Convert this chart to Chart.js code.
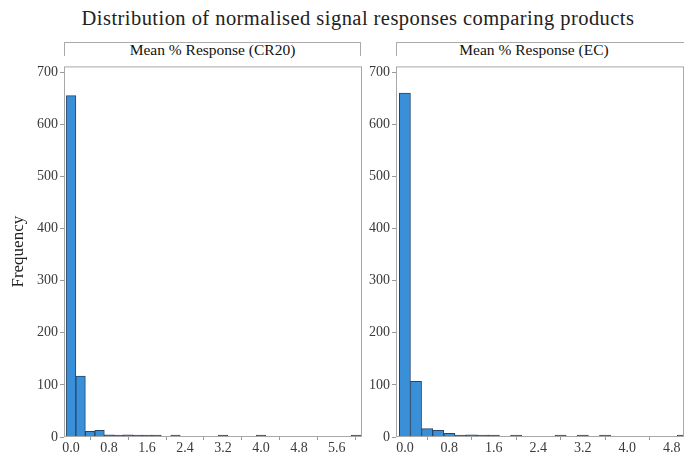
<!DOCTYPE html>
<html>
<head>
<meta charset="utf-8">
<script src="https://cdn.jsdelivr.net/npm/chart.js@4"></script>
<style>
  body { margin: 0; background: #fff; width: 684px; height: 455px; overflow: hidden; position: relative; font-family: "Liberation Serif", serif; }
  #title { position: absolute; top: 7px; left: 16px; width: 684px; text-align: center; font-size: 20.5px; color: #222; letter-spacing: 0.45px; }
  .strip { position: absolute; top: 42px; height: 13px; border: 1px solid #aaa; border-bottom: none; text-align: center; font-size: 15.5px; line-height: 14px; color: #111; box-sizing: content-box; white-space: nowrap; }
  .box { position: absolute; }
</style>
</head>
<body>
<div id="title">Distribution of normalised signal responses comparing products</div>
<div class="strip" style="left:64px; width:295px;">Mean % Response (CR20)</div>
<div class="strip" style="left:396px; width:274px; padding-right:16px;">Mean % Response (EC)</div>
<div class="box" style="left:0; top:56px; width:362px; height:399px;"><canvas id="left"></canvas></div>
<div class="box" style="left:362px; top:56px; width:322px; height:399px;"><canvas id="right"></canvas></div>
<script>
// bin centres (width 0.2)
var binsCR20 = [0.0, 0.2, 0.4, 0.6, 0.8, 1.0, 1.2, 1.4, 1.6, 1.8, 2.2, 3.2, 4.0, 6.0];
var countsCR20 = [655, 117, 11, 13, 4, 3, 4, 3, 1, 1, 1, 1, 1, 1];

var binsEC = [0.0, 0.2, 0.4, 0.6, 0.8, 1.0, 1.2, 1.4, 1.6, 2.0, 2.8, 3.2, 3.6, 5.0];
var countsEC = [660, 107, 16, 13, 7, 2, 4, 2, 2, 1, 1, 1, 1, 1];

var xTicks = [0.0, 0.8, 1.6, 2.4, 3.2, 4.0, 4.8, 5.6];
var yTicks = [0, 100, 200, 300, 400, 500, 600, 700];

var frame = {
  id: 'frame',
  afterDraw: function(chart) {
    var a = chart.chartArea, c = chart.ctx;
    c.save();
    c.strokeStyle = '#a8a8a8';
    c.lineWidth = 1;
    c.strokeRect(a.left + 0.5, a.top + 0.5, a.right - a.left - 1, a.bottom - a.top - 1);
    c.restore();
  }
};

function makeChart(id, bins, counts, xmin, xmax, yWidth, showTitle) {
  var pts = bins.map(function(b, i) { return { x: b, y: counts[i] }; });
  var tickFont = { family: 'Liberation Serif', size: 14 };
  return new Chart(document.getElementById(id), {
    type: 'bar',
    data: {
      datasets: [{
        data: pts,
        backgroundColor: '#3a8fd9',
        borderColor: '#25476b',
        borderWidth: 1,
        minBarLength: 2,
        barPercentage: 1,
        categoryPercentage: 1
      }]
    },
    options: {
      responsive: true,
      maintainAspectRatio: false,
      animation: false,
      events: [],
      layout: { padding: 0 },
      plugins: { legend: { display: false }, tooltip: { enabled: false } },
      scales: {
        x: {
          type: 'linear',
          offset: false,
          min: xmin,
          max: xmax,
          afterBuildTicks: function(s) { s.ticks = xTicks.filter(function(v) { return v <= xmax; }).map(function(v) { return { value: v }; }); },
          afterFit: function(s) { s.height = 18; },
          grid: { display: true, drawOnChartArea: false, tickLength: 3, color: '#999' },
          border: { display: false },
          ticks: { font: tickFont, color: '#3a3a3a', padding: 0, maxRotation: 0, autoSkip: false,
                   callback: function(v) { return Number(v).toFixed(1); } }
        },
        y: {
          min: 0,
          max: 711,
          afterBuildTicks: function(s) { s.ticks = yTicks.map(function(v) { return { value: v }; }); },
          afterFit: function(s) { s.width = yWidth; },
          grid: { display: true, drawOnChartArea: false, tickLength: 4, color: '#999' },
          border: { display: false },
          title: { display: showTitle, text: 'Frequency', font: { family: 'Liberation Serif', size: 17 }, color: '#222', padding: { top: 8, bottom: 0 } },
          ticks: { font: tickFont, color: '#3a3a3a', padding: 2 }
        }
      }
    },
    plugins: [frame]
  });
}

makeChart('left', binsCR20, countsCR20, -0.15, 6.13, 64, true);
makeChart('right', binsEC, countsEC, -0.16, 5.02, 34, false);
</script>
</body>
</html>
